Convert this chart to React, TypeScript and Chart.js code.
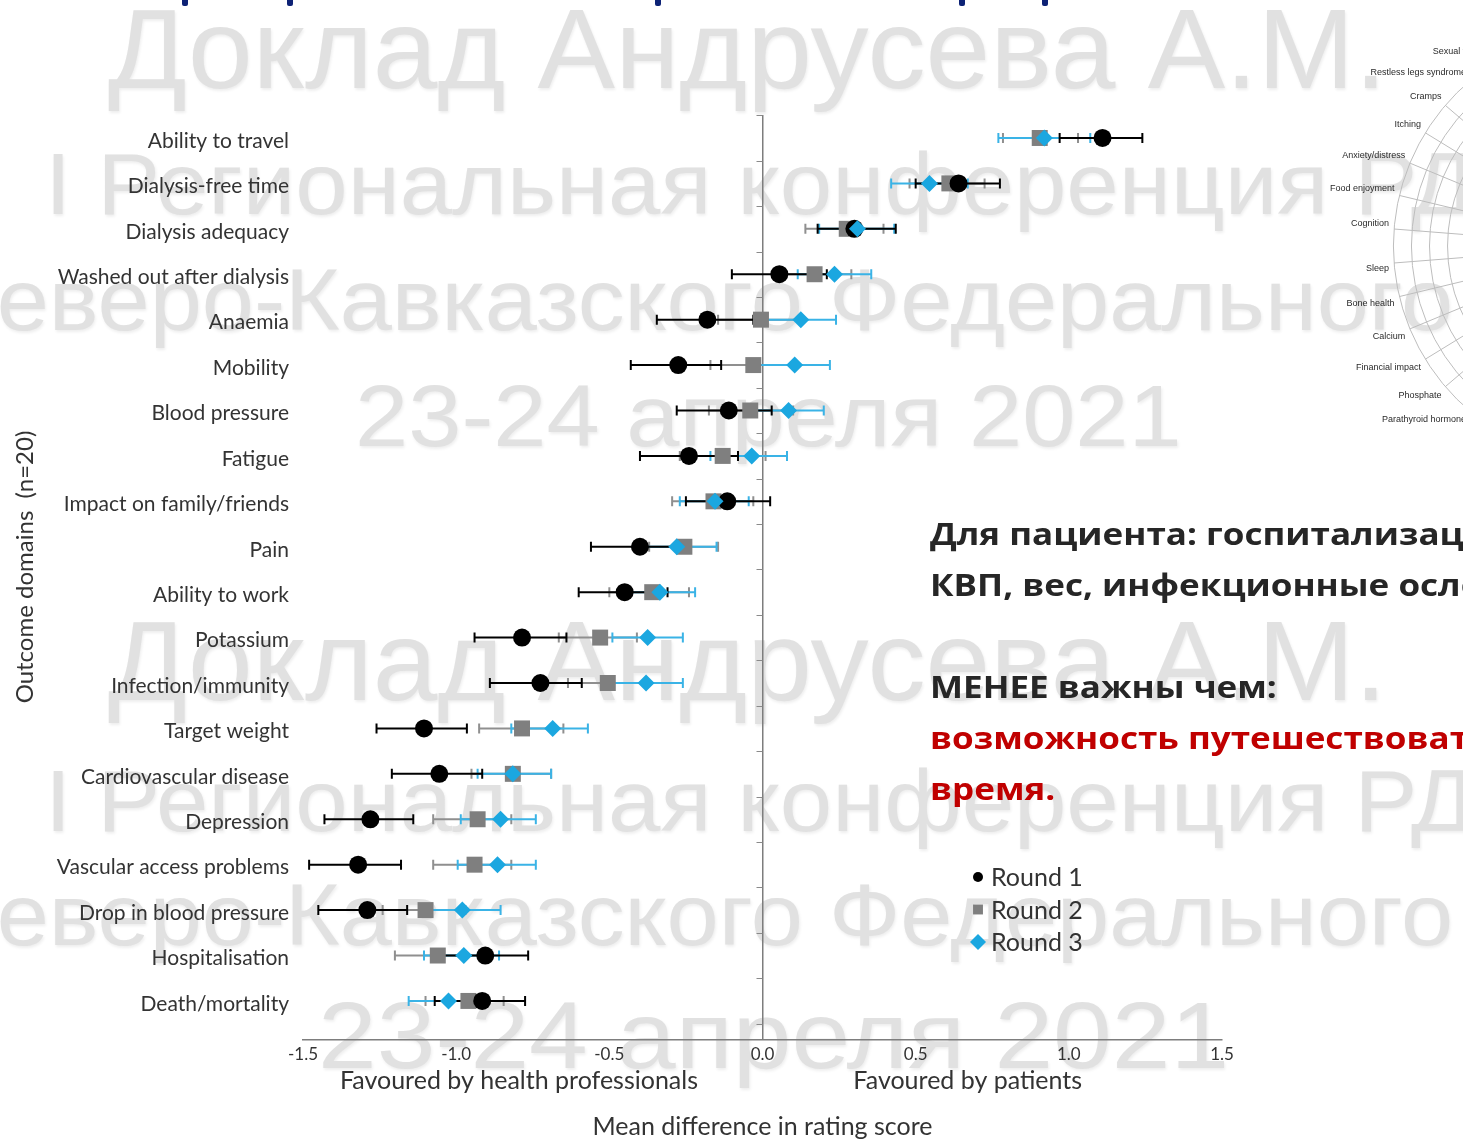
import { useEffect, useRef } from "react";
import { Chart, registerables } from "chart.js";
import { drawPoint } from "chart.js/helpers";

Chart.register(...registerables);

// Outcome domains, top to bottom
const categories = [
  "Ability to travel",
  "Dialysis-free time",
  "Dialysis adequacy",
  "Washed out after dialysis",
  "Anaemia",
  "Mobility",
  "Blood pressure",
  "Fatigue",
  "Impact on family/friends",
  "Pain",
  "Ability to work",
  "Potassium",
  "Infection/immunity",
  "Target weight",
  "Cardiovascular disease",
  "Depression",
  "Vascular access problems",
  "Drop in blood pressure",
  "Hospitalisation",
  "Death/mortality",
];

// Mean difference (patients minus health professionals) and 95% CI per round
const round1 = [1.11, 0.64, 0.3, 0.055, -0.18, -0.275, -0.11, -0.24, -0.115, -0.4, -0.45, -0.785, -0.725, -1.105, -1.055, -1.28, -1.32, -1.29, -0.905, -0.915];
const round1Low = [0.97, 0.5, 0.18, -0.1, -0.345, -0.43, -0.28, -0.4, -0.25, -0.56, -0.6, -0.94, -0.89, -1.26, -1.21, -1.43, -1.48, -1.45, -1.04, -1.07];
const round1High = [1.24, 0.775, 0.435, 0.21, -0.03, -0.135, 0.03, -0.08, 0.025, -0.25, -0.31, -0.64, -0.59, -0.965, -0.915, -1.14, -1.18, -1.16, -0.765, -0.775];

const round2 = [0.905, 0.61, 0.275, 0.17, -0.005, -0.03, -0.04, -0.13, -0.16, -0.255, -0.36, -0.53, -0.505, -0.785, -0.815, -0.93, -0.94, -1.1, -1.06, -0.96];
const round2Low = [0.785, 0.48, 0.14, 0.05, -0.145, -0.17, -0.175, -0.27, -0.295, -0.37, -0.5, -0.665, -0.635, -0.925, -0.95, -1.075, -1.075, -1.24, -1.2, -1.1];
const round2High = [1.03, 0.725, 0.395, 0.29, 0.13, 0.11, 0.1, 0.01, -0.03, -0.145, -0.24, -0.41, -0.375, -0.65, -0.69, -0.82, -0.82, -0.97, -0.92, -0.845];

const round3 = [0.92, 0.545, 0.31, 0.235, 0.125, 0.105, 0.085, -0.035, -0.155, -0.28, -0.335, -0.375, -0.38, -0.685, -0.815, -0.855, -0.865, -0.98, -0.975, -1.025];
const round3Low = [0.77, 0.42, 0.185, 0.115, 0.0, -0.01, -0.03, -0.17, -0.27, -0.4, -0.46, -0.49, -0.5, -0.82, -0.93, -0.985, -0.995, -1.1, -1.105, -1.155];
const round3High = [1.07, 0.67, 0.43, 0.355, 0.24, 0.22, 0.2, 0.08, -0.045, -0.15, -0.22, -0.26, -0.26, -0.57, -0.69, -0.74, -0.74, -0.855, -0.86, -0.9];

const xTicks = [-1.5, -1.0, -0.5, 0.0, 0.5, 1.0, 1.5];

// Spokes of the neighbouring circular chart (only its left side is on the slide)
const radarLabels = [
  "", "", "", "", "", "", "", "", "", "", "", "", "", "", "", "", "", "", "", "", "", "", "", "",
  "Parathyroid hormone",
  "Phosphate",
  "Financial impact",
  "Calcium",
  "Bone health",
  "Sleep",
  "Cognition",
  "Food enjoyment",
  "Anxiety/distress",
  "Itching",
  "Cramps",
  "Restless legs syndrome",
  "Sexual function",
  "",
  "",
  "",
];

const BLACK = "#000000";
const GREY = "#7f7f7f";
const CYAN = "#1ba7e0";
const TEXT = "#333333";
const LABEL_FONT = "Lato";

const seriesBars = [
  { low: round2Low, high: round2High, color: "#8f8f8f", width: 2 },
  { low: round3Low, high: round3High, color: "#3ab3e6", width: 2 },
  { low: round1Low, high: round1High, color: BLACK, width: 2 },
];

const errorBars = {
  id: "errorBars",
  beforeDatasetsDraw(chart: any) {
    const { ctx } = chart;
    const xs = chart.scales.x;
    const ys = chart.scales.y;
    ctx.save();
    for (const s of seriesBars) {
      ctx.strokeStyle = s.color;
      ctx.lineWidth = s.width;
      s.low.forEach((lo: number, i: number) => {
        const y = ys.getPixelForValue(i + 1);
        const x1 = xs.getPixelForValue(lo);
        const x2 = xs.getPixelForValue(s.high[i]);
        ctx.beginPath();
        ctx.moveTo(x1, y);
        ctx.lineTo(x2, y);
        ctx.moveTo(x1, y - 5);
        ctx.lineTo(x1, y + 5);
        ctx.moveTo(x2, y - 5);
        ctx.lineTo(x2, y + 5);
        ctx.stroke();
      });
    }
    ctx.restore();
  },
};

// Small marks on the zero line between domains
const zeroLineMarks = {
  id: "zeroLineMarks",
  beforeDatasetsDraw(chart: any) {
    const { ctx } = chart;
    const x0 = chart.scales.x.getPixelForValue(0);
    const ys = chart.scales.y;
    ctx.save();
    ctx.strokeStyle = "#8a8a8a";
    ctx.lineWidth = 1;
    for (let i = 0; i <= categories.length; i++) {
      const y = Math.round(ys.getPixelForValue(i + 0.5)) + 0.5;
      ctx.beginPath();
      ctx.moveTo(x0 - 6, y);
      ctx.lineTo(x0, y);
      ctx.stroke();
    }
    ctx.restore();
  },
};

const axisNotes = {
  id: "axisNotes",
  afterDraw(chart: any) {
    const { ctx, chartArea } = chart;
    const xs = chart.scales.x;
    ctx.save();
    ctx.fillStyle = TEXT;
    ctx.textAlign = "center";
    ctx.textBaseline = "middle";
    ctx.font = `25px ${LABEL_FONT}`;
    ctx.fillText("Favoured by health professionals", xs.getPixelForValue(-0.795), 1081);
    ctx.fillText("Favoured by patients", xs.getPixelForValue(0.67), 1081);
    ctx.fillText("Mean difference in rating score", (chartArea.left + chartArea.right) / 2, 1127);
    ctx.translate(25, 567);
    ctx.rotate(-Math.PI / 2);
    ctx.font = `24px ${LABEL_FONT}`;
    ctx.fillText("Outcome domains  (n=20)", 0, 0);
    ctx.restore();
  },
};

const roundKey = {
  id: "roundKey",
  afterDraw(chart: any) {
    const { ctx } = chart;
    const sizes = [5, 7, 8];
    ctx.save();
    ctx.font = `25px ${LABEL_FONT}`;
    ctx.textAlign = "left";
    ctx.textBaseline = "middle";
    chart.data.datasets.forEach((ds: any, i: number) => {
      const y = 877 + i * 32.5;
      ctx.fillStyle = ds.backgroundColor;
      ctx.strokeStyle = ds.backgroundColor;
      drawPoint(ctx, { pointStyle: ds.pointStyle, radius: sizes[i], borderWidth: 0, rotation: 0 }, 978, y);
      ctx.fillStyle = TEXT;
      ctx.fillText(ds.label, 991, y + 1);
    });
    ctx.restore();
  },
};

const toPoints = (vals: number[]) => vals.map((v, i) => ({ x: v, y: i + 1 }));

const watermarkStyle = {
  position: "absolute" as const,
  fontFamily: "'Liberation Sans', Arial, sans-serif",
  color: "#e1e1e1",
  whiteSpace: "nowrap" as const,
  lineHeight: 1,
  transformOrigin: "0 0",
  textShadow: "1px 2px 3px rgba(0,0,0,0.07)",
};

const watermarks = [
  { text: "Доклад Андрусева А.М.", left: 108, top: -8, size: 114, stretch: 1.02 },
  { text: "I Региональная конференция РДО", left: 45, top: 140, size: 88, stretch: 1.07 },
  { text: "Северо-Кавказского Федерального", left: -71, top: 256, size: 88, stretch: 1.065 },
  { text: "23-24 апреля 2021", left: 355, top: 372, size: 87, stretch: 1.1 },
  { text: "Доклад Андрусева А.М.", left: 108, top: 604, size: 114, stretch: 1.02 },
  { text: "I Региональная конференция РДО", left: 45, top: 757, size: 88, stretch: 1.07 },
  { text: "Северо-Кавказского Федерального", left: -71, top: 871, size: 88, stretch: 1.065 },
  { text: "23-24 апреля 2021", left: 318, top: 988, size: 95, stretch: 1.11 },
];

const titleDescenders = [185, 290, 658, 962, 1045];

export default function App() {
  const mainRef = useRef<HTMLCanvasElement>(null);
  const radarRef = useRef<HTMLCanvasElement>(null);

  useEffect(() => {
    const main = new Chart(mainRef.current as HTMLCanvasElement, {
      type: "scatter",
      data: {
        datasets: [
          { label: "Round 1", data: toPoints(round1), pointStyle: "circle", pointRadius: 9, backgroundColor: BLACK, borderColor: BLACK, borderWidth: 0, order: 1 },
          { label: "Round 2", data: toPoints(round2), pointStyle: "rect", pointRadius: 11.3, backgroundColor: GREY, borderColor: GREY, borderWidth: 0, order: 2 },
          { label: "Round 3", data: toPoints(round3), pointStyle: "rectRot", pointRadius: 8.5, backgroundColor: CYAN, borderColor: CYAN, borderWidth: 0, order: 0 },
        ],
      } as any,
      options: {
        animation: false,
        responsive: false,
        devicePixelRatio: 1,
        events: [],
        layout: { padding: { left: 0, top: 115, right: 241, bottom: 0 } },
        plugins: { legend: { display: false }, tooltip: { enabled: false } },
        scales: {
          x: {
            type: "linear",
            min: xTicks[0],
            max: xTicks[xTicks.length - 1],
            afterBuildTicks: (s: any) => {
              s.ticks = xTicks.map((v) => ({ value: v }));
            },
            ticks: {
              callback: (v: any) => Number(v).toFixed(1),
              font: { family: LABEL_FONT, size: 17 },
              color: TEXT,
              padding: 4,
              maxRotation: 0,
            },
            grid: {
              drawTicks: false,
              color: (c: any) => (c.tick && c.tick.value === 0 ? "#7d7d7d" : "rgba(0,0,0,0)"),
              lineWidth: 1.5,
            },
            border: { display: true, color: "#7d7d7d", width: 1.5 },
            afterFit: (s: any) => {
              s.height = 100;
            },
          },
          y: {
            type: "linear",
            reverse: true,
            min: 0.494,
            max: 20.86,
            afterBuildTicks: (s: any) => {
              s.ticks = categories.map((_, i) => ({ value: i + 1 }));
            },
            ticks: {
              callback: (v: any) => categories[Math.round(Number(v)) - 1],
              font: { family: LABEL_FONT, size: 21 },
              color: TEXT,
              padding: 14,
              labelOffset: 3,
              autoSkip: false,
            },
            grid: { display: false, drawTicks: false },
            border: { display: false },
            afterFit: (s: any) => {
              s.width = 303;
            },
          },
        },
      } as any,
      plugins: [errorBars, zeroLineMarks, axisNotes, roundKey],
    });

    const radar = new Chart(radarRef.current as HTMLCanvasElement, {
      type: "radar",
      data: { labels: radarLabels, datasets: [] },
      options: {
        animation: false,
        responsive: false,
        devicePixelRatio: 1,
        events: [],
        plugins: { legend: { display: false }, tooltip: { enabled: false } },
        scales: {
          r: {
            min: 0,
            max: 12,
            startAngle: 4.5,
            ticks: { display: false, stepSize: 1 },
            grid: { circular: true, color: "#bdbdbd", lineWidth: 1 },
            angleLines: { color: "#bdbdbd", lineWidth: 1 },
            pointLabels: { font: { family: "'Liberation Sans'", size: 9 }, color: "#2a2a2a", padding: 5 },
          },
        },
      } as any,
    });

    return () => {
      main.destroy();
      radar.destroy();
    };
  }, []);

  return (
    <div style={{ position: "absolute", left: 0, top: 0, width: 1463, height: 1140, overflow: "hidden", background: "#ffffff" }}>
      {watermarks.map((w, i) => (
        <div
          key={i}
          style={{ ...watermarkStyle, left: w.left, top: w.top, fontSize: w.size, transform: `scaleX(${w.stretch})` }}
        >
          {w.text}
        </div>
      ))}
      {titleDescenders.map((x, i) => (
        <div
          key={"d" + i}
          style={{ position: "absolute", left: x - 3, top: 0, width: 6, height: 6, background: "#0d2275", borderRadius: "0 0 2px 2px" }}
        />
      ))}
      <canvas ref={radarRef} width={560} height={560} style={{ position: "absolute", left: 1301, top: -34 }} />
      <canvas ref={mainRef} width={1463} height={1140} style={{ position: "absolute", left: 0, top: 0 }} />
      <div
        style={{
          position: "absolute",
          left: 930,
          top: 508,
          fontFamily: "'Open Sans', 'Noto Sans', sans-serif",
          fontWeight: 700,
          fontSize: 31,
          lineHeight: "51px",
          color: "#262626",
          whiteSpace: "nowrap",
          transform: "scaleX(1.13)",
          transformOrigin: "0 0",
        }}
      >
        <div>Для пациента: госпитализация,</div>
        <div>КВП, вес, инфекционные осложнения</div>
        <div>&nbsp;</div>
        <div>МЕНЕЕ важны чем:</div>
        <div style={{ color: "#c00000" }}>возможность путешествовать, свободное</div>
        <div style={{ color: "#c00000" }}>время.</div>
      </div>
    </div>
  );
}
